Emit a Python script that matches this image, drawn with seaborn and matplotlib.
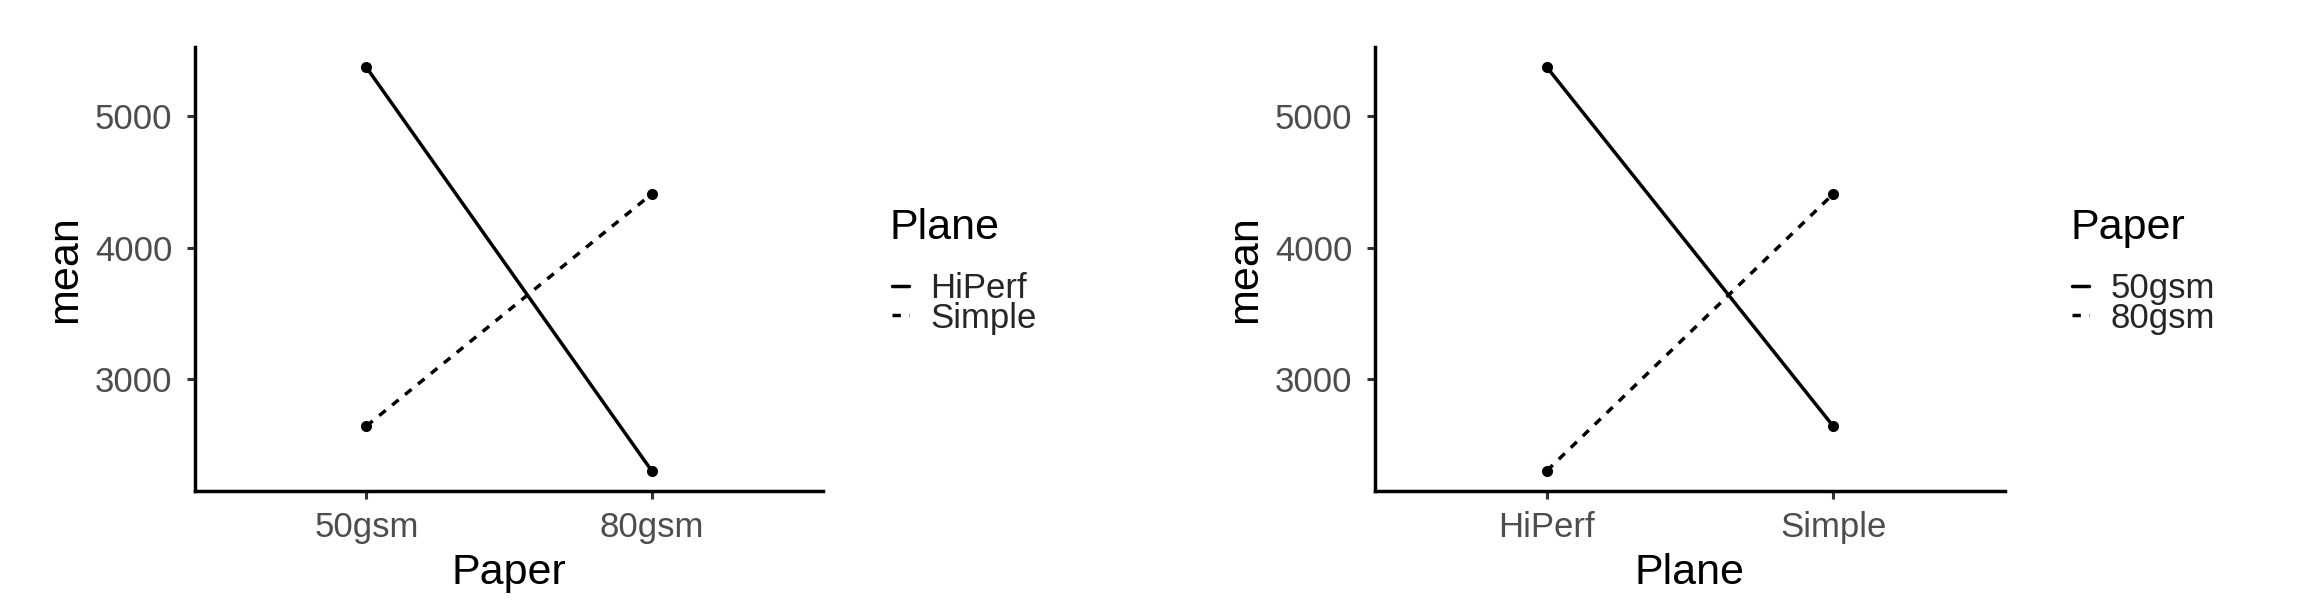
import seaborn as sns
import matplotlib.pyplot as plt
from matplotlib.lines import Line2D
import pandas as pd

# Means
paper_levels = ['50gsm', '80gsm']
plane_levels = ['HiPerf', 'Simple']
hiperf_mean = [5373, 2302]
simple_mean = [2642, 4408]

y_ticks = [3000, 4000, 5000]

TICK_GREY = '#4D4D4D'
TICK_MARK = '#333333'
LW = 2.5
DASH = (2.4, 2.4)

df = pd.DataFrame({
    'Paper': paper_levels * 2,
    'Plane': [plane_levels[0]] * 2 + [plane_levels[1]] * 2,
    'mean': hiperf_mean + simple_mean,
})

sns.set_theme(style='ticks')
plt.rcParams['font.family'] = ['Liberation Sans', 'DejaVu Sans']

fig = plt.figure(figsize=(23.03, 6.10), dpi=100)
W, H = 2303, 610


def px_axes(x0, top, width, height):
    return fig.add_axes([x0 / W, 1 - (top + height) / H, width / W, height / H])


def interaction_panel(ax, x, group, levels):
    dashes = {levels[0]: '', levels[1]: DASH}
    sns.lineplot(data=df, x=x, y='mean', style=group, style_order=levels,
                 dashes=dashes, color='black', linewidth=LW, marker='o',
                 markersize=8, markeredgewidth=0, legend=False, ax=ax,
                 sort=False)

    lo, hi = df['mean'].min(), df['mean'].max()
    pad = 0.05 * (hi - lo)
    ax.set_ylim(lo - pad, hi + pad)
    ax.set_xlim(-0.6, 1.6)
    ax.set_yticks(y_ticks)

    sns.despine(ax=ax)
    for side in ['left', 'bottom']:
        ax.spines[side].set_linewidth(LW)
        ax.spines[side].set_color('black')
    ax.tick_params(axis='both', length=5.8, width=2.2, color=TICK_MARK,
                   labelcolor=TICK_GREY, labelsize=25)
    ax.tick_params(axis='y', pad=10.5)
    ax.tick_params(axis='x', pad=8.4)

    ax.set_xlabel(x, fontsize=31, color='black')
    ax.set_ylabel('mean', fontsize=31, color='black')
    ax.xaxis.set_label_coords(0.5, -0.14)
    ax.yaxis.set_label_coords(-0.175, 0.5)


def add_legend(ax, title, levels, x_left):
    handles = [
        Line2D([], [], color='black', linewidth=LW),
        Line2D([], [], color='black', linewidth=LW, dashes=DASH),
    ]
    fig.text(x_left / W, 1 - 239 / H, title, fontsize=31, color='black',
             ha='left', va='baseline')
    leg = ax.legend(handles, levels, loc='upper left',
                    bbox_to_anchor=((x_left + 2) / W, 1 - 272 / H),
                    bbox_transform=fig.transFigure, frameon=False,
                    fontsize=25, borderpad=0, borderaxespad=0,
                    handlelength=0.49, handletextpad=0.62,
                    labelspacing=-0.1)
    return leg


ax1 = px_axes(195, 47, 628, 444)
interaction_panel(ax1, 'Paper', 'Plane', plane_levels)
add_legend(ax1, 'Plane', plane_levels, 890)

ax2 = px_axes(1375, 47, 630, 444)
interaction_panel(ax2, 'Plane', 'Paper', paper_levels)
add_legend(ax2, 'Paper', paper_levels, 2070)

fig.savefig('out.png', dpi=100, facecolor='white')
